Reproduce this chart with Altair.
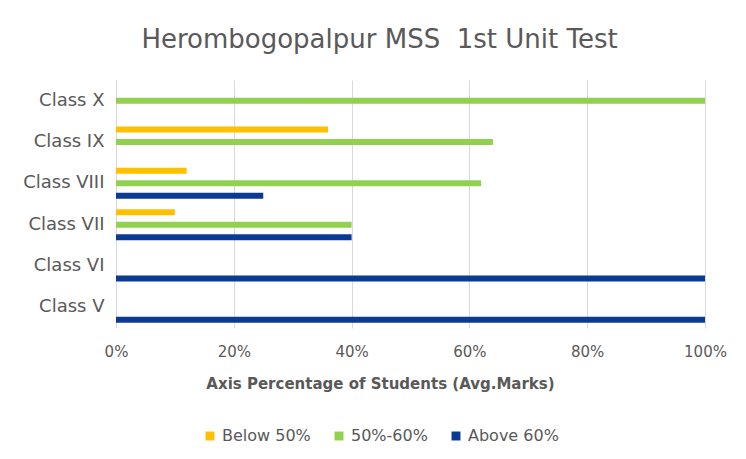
import altair as alt
import pandas as pd

classes = ["Class X", "Class IX", "Class VIII", "Class VII", "Class VI", "Class V"]
series = ["Below 50%", "50%-60%", "Above 60%"]
colors = ["#FFC000", "#92D050", "#0B3A94"]

below_50 = [None, 0.36, 0.12, 0.10, None, None]
mid_50_60 = [1.00, 0.64, 0.62, 0.40, None, None]
above_60 = [None, None, 0.25, 0.40, 1.00, 1.00]

rows = []
for s, vals in zip(series, [below_50, mid_50_60, above_60]):
    for c, v in zip(classes, vals):
        if v is not None:
            rows.append({"Class": c, "Series": s, "Value": v})
df = pd.DataFrame(rows)

FONT = "DejaVu Sans"
GRAY = "#595959"

chart = alt.Chart(df).mark_bar(size=6).encode(
    x=alt.X("Value:Q",
            scale=alt.Scale(domain=[0, 1], nice=False),
            axis=alt.Axis(format="%", values=[0, 0.2, 0.4, 0.6, 0.8, 1.0],
                          title="Axis Percentage of Students (Avg.Marks)",
                          titleFontWeight="bold", titleFontSize=15, titleColor=GRAY,
                          titleFont=FONT, titleX=264, titleY=60, titleBaseline="alphabetic",
                          titleAlign="center",
                          labelFontSize=15, labelColor=GRAY, labelFont=FONT,
                          labelPadding=16, tickSize=0, domain=False,
                          grid=True, gridColor="#d9d9d9", labelFlush=False)),
    y=alt.Y("Class:N", sort=classes,
            scale=alt.Scale(paddingInner=0.09, paddingOuter=0.045),
            axis=alt.Axis(title=None, labelFontSize=18, labelColor=GRAY, labelFont=FONT,
                          labelPadding=12, tickSize=0, domain=False, grid=False)),
    yOffset=alt.YOffset("Series:N", sort=series,
                        scale=alt.Scale(domain=series, paddingInner=0, paddingOuter=0)),
    color=alt.Color("Series:N",
                    scale=alt.Scale(domain=series, range=colors),
                    legend=alt.Legend(title=None, orient="none", direction="horizontal",
                                      legendX=86, legendY=348,
                                      symbolType="square", symbolSize=80,
                                      labelFontSize=16, labelColor=GRAY, labelFont=FONT,
                                      columnPadding=20, symbolStrokeWidth=0,
                                      labelOffset=4)),
).properties(
    width=589,
    height=248,
    title=alt.TitleParams("Herombogopalpur MSS\u00a0 1st Unit Test", fontSize=26,
                          font=FONT, color=GRAY, fontWeight="normal",
                          anchor="middle", dx=-31, offset=27),
    padding={"left": 108, "top": 72, "right": 33, "bottom": 120},
    autosize=alt.AutoSizeParams(type="none"),
).configure_view(stroke=None)

chart.save("out.html", embed_options={"renderer": "svg", "actions": False})
